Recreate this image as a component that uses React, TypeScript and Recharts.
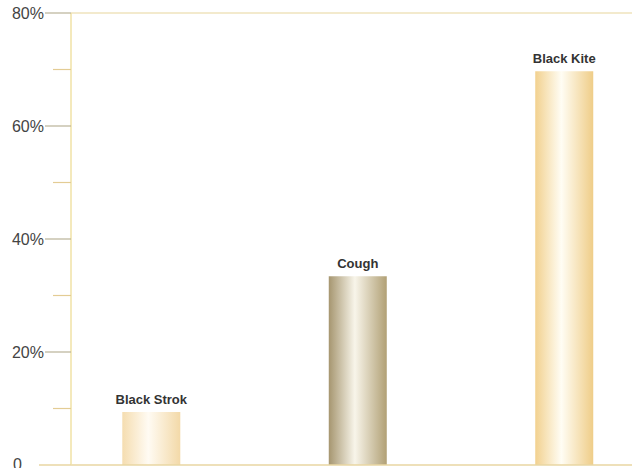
import { Bar, BarChart, Cell, LabelList, ReferenceLine, XAxis, YAxis } from "recharts"

const categories = ["Black Strok", "Cough", "Black Kite"]
const shares = [9.4, 33.4, 69.7]
const yTicks = [0, 10, 20, 30, 40, 50, 60, 70, 80]
const majorLabels: Record<number, string> = { 0: "0", 20: "20%", 40: "40%", 60: "60%", 80: "80%" }

// bar gradient stops: edge, highlight, edge
const barShades = [
    ["#f5ddb0", "#fffbf3", "#f3d9a8"],
    ["#a69670", "#f8f5ea", "#b1a075"],
    ["#f2d18f", "#fffdf4", "#efcd88"],
]

const data = categories.map((name, i) => ({ name, pos: i + 1, value: shares[i] }))

const font = "Liberation Sans, Arial, sans-serif"

function YTick(props: any) {
    const { x, y, payload } = props
    const v = payload.value
    const label = majorLabels[v]
    if (label === undefined) {
        return <line x1={x - 18} x2={x} y1={y} y2={y} stroke="#e3cc94" strokeWidth={1.2} />
    }
    if (v === 0) {
        return (
            <g>
                <line x1={x - 32} x2={x} y1={y} y2={y} stroke="#e8d6a2" strokeWidth={1.5} />
                <text x={13} y={y + 5} fontSize={16} fill="#444" fontFamily={font}>0</text>
            </g>
        )
    }
    return (
        <g>
            <line x1={x - 26} x2={x} y1={y} y2={y} stroke="#b9b298" strokeWidth={1.2} />
            <text x={x - 27} y={y + 5.5} textAnchor="end" fontSize={16} fill="#444" fontFamily={font}>
                {label}
            </text>
        </g>
    )
}

function BarLabel(props: any) {
    const { x, y, width, value } = props
    return (
        <text x={x + width / 2} y={y - 8} textAnchor="middle" fontSize={13} fontWeight="bold" fill="#333" fontFamily={font}>
            {value}
        </text>
    )
}

export default function App() {
    return (
        <div style={{ position: "absolute", left: 0, top: 0, width: 632, height: 468, background: "#fff" }}>
            <BarChart width={632} height={468} data={data} margin={{ top: 13, right: 0, bottom: 2, left: 0 }}>
                <defs>
                    {barShades.map((s, i) => (
                        <linearGradient key={i} id={`bg${i}`} x1="0" y1="0" x2="1" y2="0">
                            <stop offset="0%" stopColor={s[0]} />
                            <stop offset="45%" stopColor={s[1]} />
                            <stop offset="100%" stopColor={s[2]} />
                        </linearGradient>
                    ))}
                </defs>
                <XAxis
                    type="number"
                    dataKey="pos"
                    domain={[0.61, 3.327]}
                    allowDataOverflow
                    height={1}
                    tick={false}
                    tickLine={false}
                    axisLine={{ stroke: "#e8d6a2", strokeWidth: 1.5 }}
                />
                <YAxis
                    width={71}
                    domain={[0, 80]}
                    ticks={yTicks}
                    interval={0}
                    tickSize={0}
                    tickMargin={0}
                    tickLine={false}
                    tick={<YTick />}
                    axisLine={{ stroke: "#f1e2a6", strokeWidth: 1.5 }}
                />
                <ReferenceLine y={80} stroke="#efe3bd" strokeWidth={1.5} />
                <Bar dataKey="value" barSize={58} isAnimationActive={false}>
                    {data.map((d, i) => (
                        <Cell key={d.name} fill={`url(#bg${i})`} />
                    ))}
                    <LabelList dataKey="name" content={<BarLabel />} />
                </Bar>
            </BarChart>
        </div>
    )
}
